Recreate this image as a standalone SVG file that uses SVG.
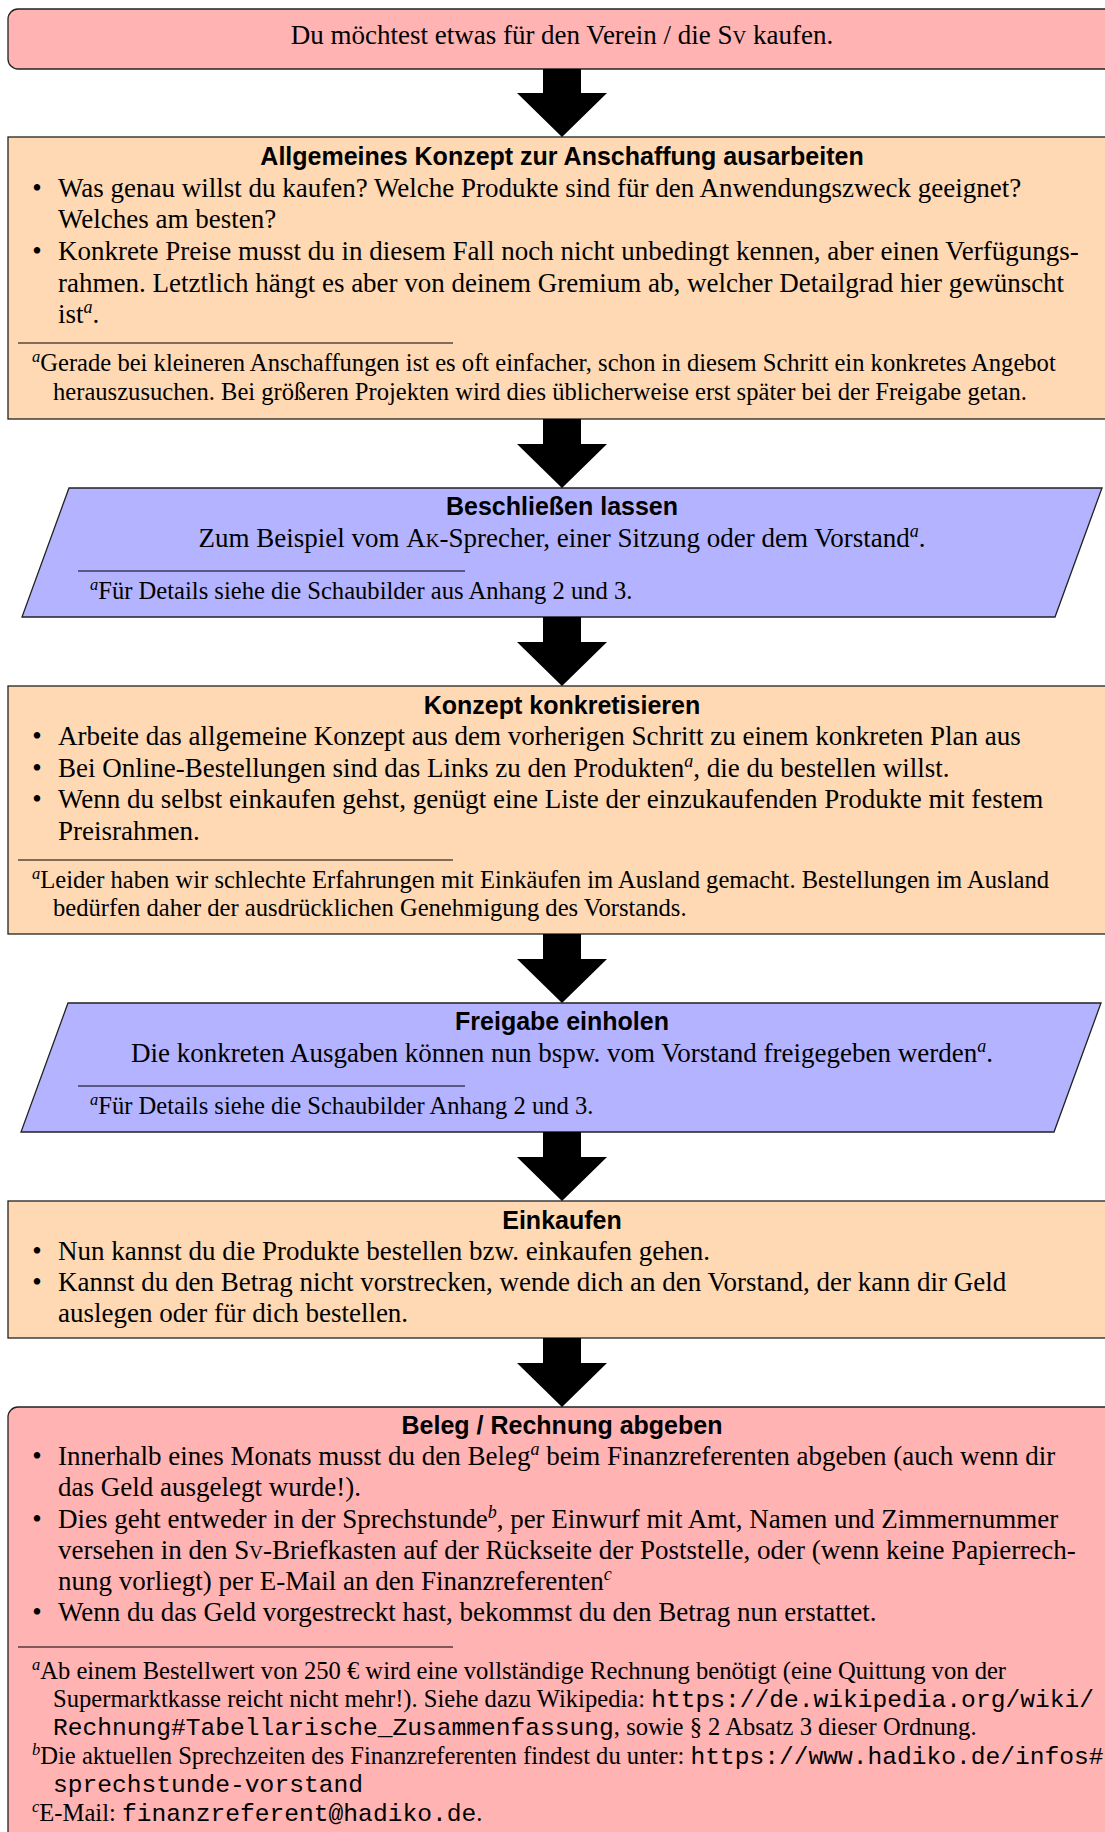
<svg xmlns="http://www.w3.org/2000/svg" width="1105" height="1832" viewBox="0 0 1105 1832">
<style>
.box{stroke:#222;stroke-width:1.3}
.red{fill:#FFB3B3}
.org{fill:#FFD9B3}
.blu{fill:#B3B3FF}
text{font-family:"Liberation Serif","Times New Roman",serif;fill:#000}
.m{font-size:27px}
.f{font-size:24.6px}
.h{font-family:"Liberation Sans",Arial,sans-serif;font-weight:bold;font-size:25px;text-anchor:middle}
.c{text-anchor:middle}
.tt{font-family:"Liberation Mono","Courier New",monospace}
.sc{font-variant:small-caps}
.s{font-style:italic;font-size:18px}
.fs{font-style:italic;font-size:16.5px}
.rule{stroke:#000;stroke-width:1.1}
.arrow{fill:#000}
</style>

<g id="start">
<rect class="box red" x="8" y="9" width="1108" height="60" rx="10"/>
<text class="m c" x="562" y="44">Du möchtest etwas für den Verein / die <tspan class="sc">Sv</tspan> kaufen.</text>
</g>

<g id="konzept">
<rect class="box org" x="8" y="137" width="1108" height="282"/>
<text class="h" x="562" y="165">Allgemeines Konzept zur Anschaffung ausarbeiten</text>
<text class="m c" x="37" y="197">•</text>
<text class="m" x="58" y="197">Was genau willst du kaufen? Welche Produkte sind für den Anwendungszweck geeignet?</text>
<text class="m" x="58" y="228">Welches am besten?</text>
<text class="m c" x="37" y="260">•</text>
<text class="m" x="58" y="260">Konkrete Preise musst du in diesem Fall noch nicht unbedingt kennen, aber einen Verfügungs-</text>
<text class="m" x="58" y="292">rahmen. Letztlich hängt es aber von deinem Gremium ab, welcher Detailgrad hier gewünscht</text>
<text class="m" x="58" y="323">ist<tspan class="s" dy="-10">a</tspan><tspan dy="10">.</tspan></text>
<line class="rule" x1="18" y1="343" x2="453" y2="343"/>
<text class="f" x="32" y="371"><tspan class="fs" dy="-9">a</tspan><tspan dy="9">Gerade bei kleineren Anschaffungen ist es oft einfacher, schon in diesem Schritt ein konkretes Angebot</tspan></text>
<text class="f" x="53" y="400">herauszusuchen. Bei größeren Projekten wird dies üblicherweise erst später bei der Freigabe getan.</text>
</g>

<g id="beschliessen">
<polygon class="box blu" points="69,488 1102,488 1055,617 22,617"/>
<text class="h" x="562" y="515">Beschließen lassen</text>
<text class="m c" x="562" y="547">Zum Beispiel vom <tspan class="sc">Ak</tspan>-Sprecher, einer Sitzung oder dem Vorstand<tspan class="s" dy="-10">a</tspan><tspan dy="10">.</tspan></text>
<line class="rule" x1="78" y1="571" x2="465" y2="571"/>
<text class="f" x="90" y="599"><tspan class="fs" dy="-9">a</tspan><tspan dy="9">Für Details siehe die Schaubilder aus Anhang 2 und 3.</tspan></text>
</g>

<g id="konkretisieren">
<rect class="box org" x="8" y="686" width="1108" height="248"/>
<text class="h" x="562" y="714">Konzept konkretisieren</text>
<text class="m c" x="37" y="745">•</text>
<text class="m" x="58" y="745">Arbeite das allgemeine Konzept aus dem vorherigen Schritt zu einem konkreten Plan aus</text>
<text class="m c" x="37" y="777">•</text>
<text class="m" x="58" y="777">Bei Online-Bestellungen sind das Links zu den Produkten<tspan class="s" dy="-10">a</tspan><tspan dy="10">, die du bestellen willst.</tspan></text>
<text class="m c" x="37" y="808">•</text>
<text class="m" x="58" y="808">Wenn du selbst einkaufen gehst, genügt eine Liste der einzukaufenden Produkte mit festem</text>
<text class="m" x="58" y="840">Preisrahmen.</text>
<line class="rule" x1="18" y1="860" x2="453" y2="860"/>
<text class="f" x="32" y="888"><tspan class="fs" dy="-9">a</tspan><tspan dy="9">Leider haben wir schlechte Erfahrungen mit Einkäufen im Ausland gemacht. Bestellungen im Ausland</tspan></text>
<text class="f" x="53" y="916">bedürfen daher der ausdrücklichen Genehmigung des Vorstands.</text>
</g>

<g id="freigabe">
<polygon class="box blu" points="68,1003 1101,1003 1054,1132 21,1132"/>
<text class="h" x="562" y="1030">Freigabe einholen</text>
<text class="m c" x="562" y="1062">Die konkreten Ausgaben können nun bspw. vom Vorstand freigegeben werden<tspan class="s" dy="-10">a</tspan><tspan dy="10">.</tspan></text>
<line class="rule" x1="78" y1="1086" x2="465" y2="1086"/>
<text class="f" x="90" y="1114"><tspan class="fs" dy="-9">a</tspan><tspan dy="9">Für Details siehe die Schaubilder Anhang 2 und 3.</tspan></text>
</g>

<g id="einkaufen">
<rect class="box org" x="8" y="1201" width="1108" height="137"/>
<text class="h" x="562" y="1229">Einkaufen</text>
<text class="m c" x="37" y="1260">•</text>
<text class="m" x="58" y="1260">Nun kannst du die Produkte bestellen bzw. einkaufen gehen.</text>
<text class="m c" x="37" y="1291">•</text>
<text class="m" x="58" y="1291">Kannst du den Betrag nicht vorstrecken, wende dich an den Vorstand, der kann dir Geld</text>
<text class="m" x="58" y="1322">auslegen oder für dich bestellen.</text>
</g>

<g id="beleg">
<rect class="box red" x="8" y="1407" width="1108" height="450" rx="10"/>
<text class="h" x="562" y="1434">Beleg / Rechnung abgeben</text>
<text class="m c" x="37" y="1465">•</text>
<text class="m" x="58" y="1465">Innerhalb eines Monats musst du den Beleg<tspan class="s" dy="-10">a</tspan><tspan dy="10"> beim Finanzreferenten abgeben (auch wenn dir</tspan></text>
<text class="m" x="58" y="1496">das Geld ausgelegt wurde!).</text>
<text class="m c" x="37" y="1528">•</text>
<text class="m" x="58" y="1528">Dies geht entweder in der Sprechstunde<tspan class="s" dy="-10">b</tspan><tspan dy="10">, per Einwurf mit Amt, Namen und Zimmernummer</tspan></text>
<text class="m" x="58" y="1559">versehen in den <tspan class="sc">Sv</tspan>-Briefkasten auf der Rückseite der Poststelle, oder (wenn keine Papierrech-</text>
<text class="m" x="58" y="1590">nung vorliegt) per E-Mail an den Finanzreferenten<tspan class="s" dy="-10">c</tspan></text>
<text class="m c" x="37" y="1621">•</text>
<text class="m" x="58" y="1621">Wenn du das Geld vorgestreckt hast, bekommst du den Betrag nun erstattet.</text>
<line class="rule" x1="18" y1="1647" x2="453" y2="1647"/>
<text class="f" x="32" y="1679"><tspan class="fs" dy="-9">a</tspan><tspan dy="9">Ab einem Bestellwert von 250 € wird eine vollständige Rechnung benötigt (eine Quittung von der</tspan></text>
<text class="f" x="53" y="1707">Supermarktkasse reicht nicht mehr!). Siehe dazu Wikipedia: <tspan class="tt">https://de.wikipedia.org/wiki/</tspan></text>
<text class="f" x="53" y="1735"><tspan class="tt">Rechnung#Tabellarische_Zusammenfassung</tspan>, sowie § 2 Absatz 3 dieser Ordnung.</text>
<text class="f" x="32" y="1764"><tspan class="fs" dy="-9">b</tspan><tspan dy="9">Die aktuellen Sprechzeiten des Finanzreferenten findest du unter: </tspan><tspan class="tt">https://www.hadiko.de/infos#</tspan></text>
<text class="f" x="53" y="1792"><tspan class="tt">sprechstunde-vorstand</tspan></text>
<text class="f" x="32" y="1821"><tspan class="fs" dy="-9">c</tspan><tspan dy="9">E-Mail: </tspan><tspan class="tt">finanzreferent@hadiko.de</tspan>.</text>
</g>

<g id="connectors">
<path class="arrow" d="M543,69H581V93H607L562,137L517,93H543Z"/>
<path class="arrow" d="M543,419H581V444H607L562,488L517,444H543Z"/>
<path class="arrow" d="M543,617H581V642H607L562,686L517,642H543Z"/>
<path class="arrow" d="M543,934H581V959H607L562,1003L517,959H543Z"/>
<path class="arrow" d="M543,1132H581V1157H607L562,1201L517,1157H543Z"/>
<path class="arrow" d="M543,1338H581V1363H607L562,1407L517,1363H543Z"/>
</g>
</svg>
